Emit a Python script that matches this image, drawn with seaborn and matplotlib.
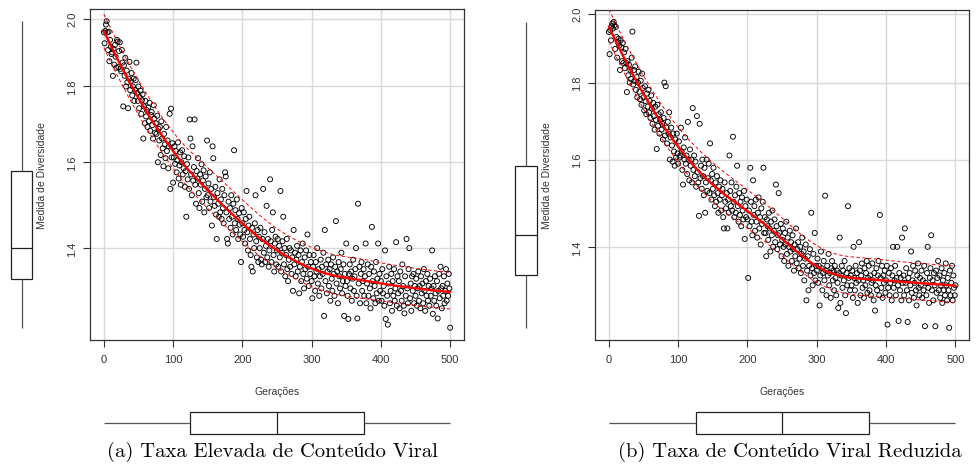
import numpy as np
import matplotlib
matplotlib.use("Agg")
import matplotlib.pyplot as plt
from matplotlib.ticker import NullLocator
import seaborn as sns

# ---------------- data ----------------
generations = list(range(0, 501))

diversity_high = [
    1.958,1.925,1.962,1.982,1.992,1.958,1.905,1.960,1.872,1.935,1.915,1.893,1.898,1.830,1.908,1.862,1.920,1.885,1.853,1.935,1.930,1.855,1.902,1.928,1.850,
    1.843,1.905,1.868,1.745,1.860,1.830,1.882,1.800,1.845,1.812,1.740,1.822,1.870,1.790,1.815,1.838,1.775,1.800,1.822,1.760,1.790,1.818,1.868,1.782,1.760,
    1.800,1.740,1.770,1.788,1.725,1.762,1.778,1.660,1.745,1.700,1.760,1.718,1.735,1.690,1.742,1.705,1.755,1.680,1.722,1.730,1.695,1.660,1.748,1.712,1.675,
    1.700,1.672,1.720,1.600,1.685,1.655,1.690,1.618,1.705,1.660,1.635,1.590,1.672,1.645,1.610,1.690,1.628,1.655,1.585,1.640,1.725,1.535,1.739,1.612,1.648,
    1.550,1.612,1.640,1.596,1.628,1.575,1.605,1.650,1.560,1.592,1.625,1.545,1.600,1.630,1.570,1.585,1.615,1.540,1.578,1.470,1.595,1.558,1.612,1.535,1.710,
    1.660,1.570,1.520,1.640,1.555,1.588,1.710,1.545,1.500,1.578,1.560,1.610,1.525,1.490,1.570,1.545,1.595,1.505,1.555,1.580,1.480,1.535,1.565,1.515,1.655,
    1.520,1.548,1.490,1.575,1.505,1.535,1.450,1.640,1.610,1.515,1.495,1.540,1.475,1.420,1.525,1.500,1.470,1.558,1.480,1.510,1.465,1.535,1.490,1.455,1.520,
    1.575,1.565,1.480,1.420,1.410,1.505,1.465,1.490,1.445,1.520,1.470,1.430,1.500,1.630,1.455,1.485,1.440,1.510,1.465,1.420,1.478,1.452,1.430,1.370,1.490,
    1.455,1.425,1.480,1.440,1.410,1.465,1.530,1.435,1.395,1.450,1.470,1.420,1.385,1.360,1.445,1.350,1.430,1.400,1.455,1.520,1.415,1.380,1.440,1.370,1.425,
    1.400,1.445,1.375,1.365,1.420,1.535,1.390,1.435,1.370,1.405,1.495,1.380,1.420,1.360,1.395,1.558,1.415,1.370,1.440,1.480,1.385,1.350,1.410,1.425,1.365,
    1.395,1.420,1.360,1.405,1.380,1.530,1.350,1.390,1.415,1.470,1.365,1.400,1.340,1.385,1.420,1.355,1.330,1.375,1.400,1.360,1.395,1.345,1.380,1.310,1.440,
    1.365,1.390,1.340,1.375,1.405,1.350,1.385,1.305,1.360,1.395,1.330,1.370,1.410,1.345,1.315,1.380,1.355,1.395,1.335,1.430,1.360,1.320,1.385,1.345,1.370,
    1.330,1.295,1.360,1.385,1.340,1.310,1.370,1.350,1.400,1.325,1.355,1.300,1.340,1.375,1.315,1.360,1.345,1.390,1.260,1.440,1.330,1.365,1.305,1.350,1.375,
    1.320,1.355,1.290,1.365,1.335,1.310,1.380,1.345,1.300,1.360,1.460,1.325,1.350,1.285,1.370,1.340,1.315,1.355,1.390,1.305,1.330,1.365,1.260,1.345,1.320,
    1.410,1.330,1.300,1.254,1.345,1.365,1.315,1.350,1.290,1.335,1.375,1.310,1.340,1.355,1.400,1.300,1.255,1.500,1.325,1.360,1.285,1.345,1.370,1.310,1.330,
    1.355,1.300,1.340,1.410,1.285,1.325,1.365,1.300,1.345,1.315,1.275,1.360,1.447,1.330,1.295,1.350,1.320,1.285,1.370,1.305,1.335,1.410,1.290,1.345,1.310,
    1.330,1.290,1.355,1.305,1.320,1.280,1.395,1.254,1.340,1.300,1.243,1.325,1.360,1.285,1.310,1.345,1.270,1.330,1.300,1.355,1.290,1.315,1.413,1.280,1.340,
    1.305,1.330,1.275,1.350,1.310,1.290,1.365,1.320,1.280,1.265,1.340,1.300,1.420,1.315,1.285,1.355,1.400,1.295,1.325,1.270,1.340,1.310,1.345,1.285,1.320,
    1.300,1.335,1.280,1.315,1.350,1.290,1.320,1.275,1.340,1.305,1.325,1.285,1.355,1.310,1.270,1.330,1.300,1.345,1.290,1.320,1.280,1.335,1.300,1.315,1.395,
    1.264,1.320,1.290,1.340,1.305,1.280,1.330,1.255,1.310,1.345,1.295,1.360,1.315,1.275,1.320,1.300,1.340,1.285,1.310,1.355,1.290,1.325,1.300,1.345,1.315,
    1.237,
]

diversity_low = [
    1.945,1.880,1.950,1.920,1.962,1.970,1.955,1.975,1.965,1.895,1.960,1.930,1.870,1.915,1.925,1.905,1.835,1.920,1.900,1.860,1.912,1.855,1.885,1.840,1.895,
    1.855,1.774,1.860,1.820,1.850,1.800,1.835,1.810,1.870,1.946,1.795,1.835,1.805,1.845,1.780,1.815,1.760,1.800,1.830,1.775,1.755,1.805,1.740,1.825,1.785,
    1.760,1.725,1.790,1.750,1.715,1.770,1.735,1.780,1.720,1.750,1.705,1.765,1.730,1.690,1.745,1.710,1.675,1.735,1.700,1.626,1.740,1.685,1.715,1.665,1.700,
    1.720,1.675,1.690,1.650,1.705,1.800,1.660,1.790,1.680,1.640,1.695,1.665,1.720,1.600,1.655,1.680,1.635,1.595,1.665,1.620,1.585,1.650,1.605,1.665,1.615,
    1.590,1.645,1.605,1.610,1.680,1.620,1.575,1.540,1.630,1.600,1.655,1.590,1.610,1.565,1.695,1.600,1.550,1.625,1.585,1.600,1.545,1.731,1.575,1.610,1.560,
    1.595,1.535,1.710,1.570,1.545,1.468,1.690,1.555,1.585,1.530,1.600,1.560,1.515,1.580,1.475,1.545,1.600,1.525,1.555,1.590,1.520,1.640,1.550,1.505,1.565,
    1.530,1.580,1.515,1.490,1.545,1.500,1.560,1.520,1.475,1.535,1.505,1.550,1.480,1.515,1.530,1.465,1.440,1.545,1.500,1.485,1.520,1.440,1.505,1.475,1.610,
    1.525,1.490,1.545,1.480,1.657,1.500,1.465,1.515,1.475,1.535,1.585,1.490,1.455,1.520,1.470,1.500,1.445,1.510,1.480,1.460,1.525,1.417,1.490,1.465,1.505,
    1.460,1.335,1.480,1.445,1.580,1.500,1.455,1.425,1.550,1.470,1.490,1.435,1.505,1.455,1.420,1.475,1.510,1.440,1.465,1.405,1.485,1.450,1.500,1.580,1.430,
    1.465,1.430,1.380,1.460,1.445,1.415,1.475,1.440,1.390,1.455,1.425,1.480,1.400,1.435,1.460,1.410,1.540,1.445,1.395,1.425,1.520,1.430,1.405,1.450,1.380,
    1.415,1.440,1.400,1.370,1.430,1.405,1.455,1.385,1.420,1.360,1.400,1.435,1.390,1.410,1.370,1.425,1.395,1.350,1.405,1.380,1.440,1.365,1.395,1.410,1.355,
    1.375,1.400,1.345,1.385,1.420,1.360,1.390,1.330,1.375,1.405,1.290,1.350,1.380,1.310,1.360,1.395,1.340,1.475,1.355,1.320,1.385,1.345,1.430,1.330,1.360,
    1.350,1.375,1.325,1.360,1.280,1.340,1.390,1.355,1.310,1.345,1.370,1.330,1.514,1.350,1.300,1.360,1.340,1.385,1.320,1.345,1.295,1.355,1.370,1.330,1.350,
    1.310,1.360,1.335,1.300,1.350,1.325,1.275,1.345,1.420,1.285,1.340,1.360,1.315,1.350,1.330,1.370,1.300,1.265,1.345,1.320,1.490,1.335,1.355,1.310,1.340,
    1.320,1.350,1.295,1.400,1.335,1.310,1.360,1.325,1.345,1.285,1.330,1.410,1.350,1.300,1.340,1.365,1.315,1.330,1.295,1.355,1.320,1.345,1.370,1.305,1.335,
    1.360,1.310,1.340,1.300,1.325,1.365,1.330,1.290,1.345,1.270,1.320,1.355,1.310,1.340,1.370,1.300,1.470,1.335,1.315,1.360,1.295,1.340,1.325,1.350,1.305,
    1.330,1.360,1.243,1.315,1.345,1.300,1.325,1.355,1.290,1.340,1.400,1.315,1.330,1.360,1.300,1.335,1.400,1.320,1.250,1.345,1.310,1.335,1.290,1.420,1.325,
    1.340,1.300,1.440,1.325,1.355,1.310,1.248,1.335,1.290,1.345,1.320,1.390,1.305,1.330,1.360,1.295,1.325,1.350,1.310,1.280,1.340,1.365,1.315,1.300,1.335,
    1.320,1.350,1.295,1.330,1.310,1.360,1.240,1.325,1.300,1.345,1.400,1.315,1.285,1.335,1.355,1.425,1.310,1.330,1.290,1.345,1.320,1.240,1.350,1.305,1.335,
    1.370,1.310,1.340,1.295,1.320,1.355,1.285,1.330,1.310,1.345,1.300,1.365,1.320,1.290,1.335,1.310,1.237,1.350,1.300,1.325,1.360,1.290,1.340,1.315,1.300,
    1.320,
]

captions = ["(a) Taxa Elevada de Conteúdo Viral", "(b) Taxa de Conteúdo Viral Reduzida"]
x_label = "Gerações"
y_label = "Medida de Diversidade"
x_ticks = [0, 100, 200, 300, 400, 500]
y_ticks = [1.4, 1.6, 1.8, 2.0]
y_tick_labels = ["1.4", "1.6", "1.8", "2.0"]

# ---------------- style ----------------
sns.set_theme(style="white")
plt.rcParams['font.family'] = ['Liberation Sans', 'DejaVu Sans']

W, H = 977, 477
fig = plt.figure(figsize=(W / 100, H / 100), dpi=100)


def rect(x0, y0, x1, y1):
    return [x0 / W, 1 - y1 / H, (x1 - x0) / W, (y1 - y0) / H]


def loess(x, y, xe, span, degree):
    x = np.asarray(x, float)
    y = np.asarray(y, float)
    n = len(x)
    k = int(np.ceil(span * n))
    out = []
    for x0 in xe:
        d = np.abs(x - x0)
        h = np.sort(d)[k - 1]
        w = np.clip(1 - (d / h) ** 3, 0, None) ** 3
        if degree == 0:
            out.append(np.sum(w * y) / np.sum(w))
        else:
            cols = [np.ones(n)] + [(x - x0) ** dd for dd in range(1, degree + 1)]
            X = np.column_stack(cols)
            sw = np.sqrt(w)
            beta = np.linalg.lstsq(X * sw[:, None], y * sw, rcond=None)[0]
            out.append(beta[0])
    return np.array(out)


TXT = '#333333'
panels = [
    dict(y=diversity_high, cap=captions[0], scat=(90, 10, 464, 341), ybox_c=21.5,
         ylab_x=42, cap_x=272),
    dict(y=diversity_low, cap=captions[1], scat=(595, 10.7, 969.3, 341), ybox_c=526,
         ylab_x=547, cap_x=790),
]

for p in panels:
    x = np.asarray(generations, float)
    y = np.asarray(p['y'], float)
    ly = np.log(y)
    lo, hi = ly.min(), ly.max()
    r = hi - lo
    ylim = (np.exp(lo - 0.04 * r), np.exp(hi + 0.04 * r))
    xr = x.max() - x.min()
    xlim = (x.min() - 0.04 * xr, x.max() + 0.04 * xr)

    x0, y0, x1, y1 = p['scat']
    ax = fig.add_axes(rect(x0, y0, x1, y1))
    ax.set_yscale('log')

    # smoother with spread (computed in log space)
    xe = np.unique(x)
    fit_at_x = loess(x, ly, x, 0.5, 2)
    fit = loess(x, ly, xe, 0.5, 2)
    res = ly - fit_at_x
    pos = res > 0
    neg = res < 0
    up = fit + np.sqrt(loess(x[pos], res[pos] ** 2, xe, 0.5, 0))
    dn = fit - np.sqrt(loess(x[neg], res[neg] ** 2, xe, 0.5, 0))

    sns.scatterplot(x=x, y=y, ax=ax, marker='o', s=13, facecolor='none',
                    edgecolor='black', linewidth=0.65, zorder=3)
    sns.lineplot(x=xe, y=np.exp(fit), ax=ax, color='#ff0000', lw=1.7,
                 sort=False, estimator=None, zorder=4)
    for band in (up, dn):
        sns.lineplot(x=xe, y=np.exp(band), ax=ax, color='#ff0000', lw=0.7,
                     linestyle=(0, (3.5, 2.5)), sort=False, estimator=None, zorder=4)

    ax.set_xlim(xlim)
    ax.set_ylim(ylim)
    ax.set_xticks(x_ticks)
    ax.set_xticklabels([str(t) for t in x_ticks])
    ax.set_yticks(y_ticks)
    ax.set_yticklabels(y_tick_labels)
    ax.yaxis.set_minor_locator(NullLocator())
    ax.set_xlabel('')
    ax.set_ylabel('')
    ax.grid(True, which='major', color='#d9d9d9', lw=1.0)
    ax.set_axisbelow(True)
    ax.tick_params(axis='both', which='major', direction='out', length=5,
                   width=0.8, color=TXT, labelsize=8, labelcolor=TXT,
                   left=True, bottom=True, top=False, right=False)
    ax.tick_params(axis='x', pad=5)
    ax.tick_params(axis='y', pad=4)
    for lab in ax.get_yticklabels():
        lab.set_rotation(90)
        lab.set_va('center')
    for s in ax.spines.values():
        s.set_visible(True)
        s.set_color(TXT)
        s.set_linewidth(0.9)

    # marginal boxplot of y (left)
    c = p['ybox_c']
    axy = fig.add_axes(rect(c - 21.5, y0, c + 21.5, y1))
    sns.boxplot(y=y, ax=axy, log_scale=True, width=0.5, color='white',
                linecolor='#222222', linewidth=0.9, showcaps=False,
                whis=(0, 100), fliersize=0,
                whiskerprops={'color': '#555555'})
    axy.set_ylim(ylim)
    axy.set_xlim(-0.5, 0.5)
    axy.axis('off')

    # marginal boxplot of x (bottom)
    axx = fig.add_axes(rect(x0, 402.3, x1, 446.3))
    sns.boxplot(x=x, ax=axx, orient='h', width=0.5, color='white',
                linecolor='#222222', linewidth=0.9, showcaps=False,
                whis=(0, 100), fliersize=0,
                whiskerprops={'color': '#555555'})
    axx.set_xlim(xlim)
    axx.set_ylim(-0.5, 0.5)
    axx.axis('off')

    # labels
    fig.text(p['ylab_x'] / W, 1 - ((y0 + y1) / 2) / H, y_label, rotation=90,
             ha='center', va='center', fontsize=7.5, color=TXT)
    fig.text(((x0 + x1) / 2) / W, 1 - 391.7 / H, x_label, ha='center',
             va='center', fontsize=7.5, color=TXT)
    fig.text(p['cap_x'] / W, 1 - 457 / H, p['cap'], ha='center',
             va='baseline', fontsize=14.8, color='black',
             family=['cmr10', 'Liberation Serif'])

fig.savefig('out.png', dpi=100)
